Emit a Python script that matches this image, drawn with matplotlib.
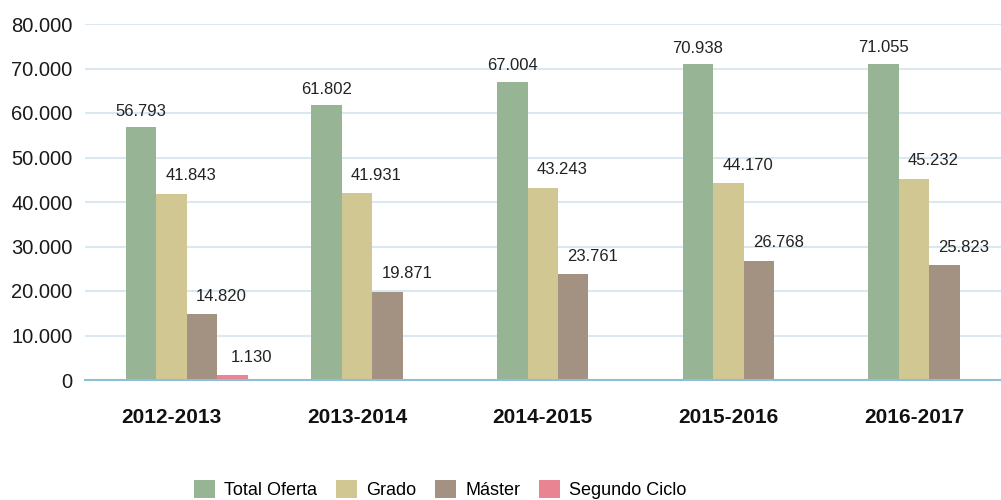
import matplotlib
matplotlib.use('Agg')
import matplotlib.pyplot as plt
import numpy as np

# curso academico
cursos = ['2012-2013', '2013-2014', '2014-2015', '2015-2016', '2016-2017']
total_oferta = [56793, 61802, 67004, 70938, 71055]
grado = [41843, 41931, 43243, 44170, 45232]
master = [14820, 19871, 23761, 26768, 25823]
segundo_ciclo = [1130, 0, 0, 0, 0]

series = ['Total Oferta', 'Grado', 'Máster', 'Segundo Ciclo']
colores = ['#97b595', '#d1c793', '#a39281', '#e98593']

plt.rcParams['font.family'] = ['Liberation Sans', 'DejaVu Sans']

fig = plt.figure(figsize=(10.01, 5), dpi=100)
ax = fig.add_axes([85 / 1001, 0.24, 1 - 85 / 1001, 0.712])

x = np.arange(len(cursos))
w = 0.164
offsets = [-w, 0, w, 2 * w]
datos = [total_oferta, grado, master, segundo_ciclo]

for k, (vals, col, name) in enumerate(zip(datos, colores, series)):
    bars = ax.bar(x + offsets[k], vals, width=w, color=col, label=name, zorder=2)
    for b, v in zip(bars, vals):
        if v == 0:
            continue
        txt = f'{v:,}'.replace(',', '.')
        if k == 0:
            dx, dy = 0, 6
        else:
            dx, dy = 14, 7.5
        ax.annotate(txt, (b.get_x() + b.get_width() / 2, v), xytext=(dx, dy),
                    textcoords='offset points', ha='center', va='bottom',
                    fontsize=12, color='#222222')

ax.set_xlim(-0.466, 4.469)
ax.set_ylim(0, 80000)
ax.set_yticks(np.arange(0, 80001, 10000))
ax.set_yticklabels([f'{int(t):,}'.replace(',', '.') for t in np.arange(0, 80001, 10000)])
ax.set_xticks(x)
ax.set_xticklabels(cursos, fontweight='bold', fontsize=15)

ax.yaxis.grid(True, color='#dce8f1', linewidth=1.5, zorder=0)
ax.set_axisbelow(True)
for s in ['top', 'right', 'left']:
    ax.spines[s].set_visible(False)
ax.spines['bottom'].set_color('#8fbedb')
ax.spines['bottom'].set_linewidth(1.5)
ax.spines['bottom'].set_zorder(3)

ax.tick_params(axis='y', length=0, pad=9, labelsize=14.5, labelcolor='#1a1a1a')
ax.tick_params(axis='x', length=0, pad=20, labelcolor='#111111')

fig.legend(loc='center', bbox_to_anchor=(0.44, 0.021), ncol=4, frameon=False,
           fontsize=13, handlelength=1.16, handleheight=1.16, handletextpad=0.5,
           columnspacing=1.05, borderaxespad=0, borderpad=0)

plt.savefig('out.png', dpi=100)
plt.close()
